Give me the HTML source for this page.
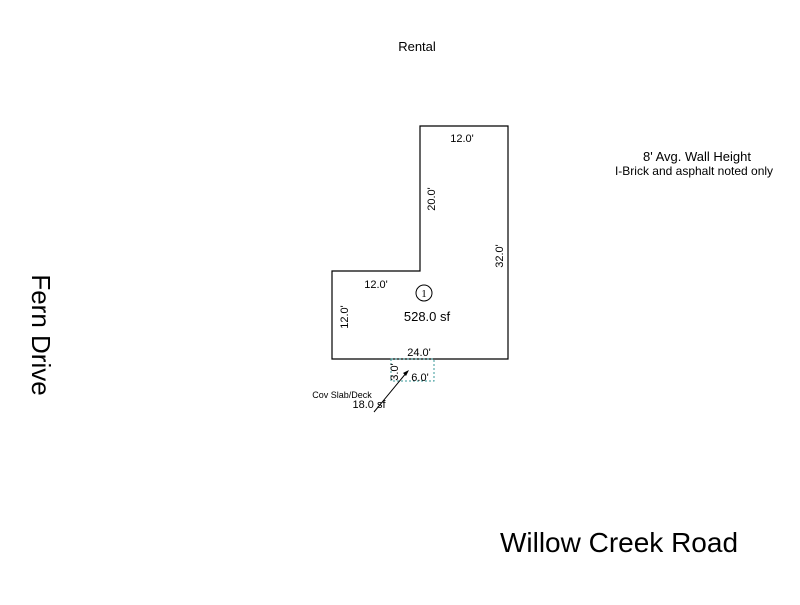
<!DOCTYPE html>
<html><head><style>body{margin:0;background:#fff}</style></head><body>
<svg width="800" height="600" xmlns="http://www.w3.org/2000/svg" font-family="Liberation Sans, Arial, sans-serif">
<rect width="800" height="600" fill="#fff"/>
<text x="417" y="51" font-size="13" text-anchor="middle">Rental</text>
<text x="697" y="161" font-size="13" text-anchor="middle">8' Avg. Wall Height</text>
<text x="694" y="175" font-size="12" text-anchor="middle">I-Brick and asphalt noted only</text>
<text x="619" y="552" font-size="28" text-anchor="middle">Willow Creek Road</text>
<text transform="translate(32,335) rotate(90)" font-size="26" text-anchor="middle">Fern Drive</text>
<polygon points="420,126 508,126 508,359 332,359 332,271 420,271" fill="none" stroke="#000" stroke-width="1.2"/>
<rect x="391" y="359" width="43" height="22" fill="none" stroke="#3a9a9a" stroke-dasharray="2,2"/>
<text x="462" y="142" font-size="11" text-anchor="middle">12.0'</text>
<text transform="translate(435,199) rotate(-90)" font-size="11" text-anchor="middle">20.0'</text>
<text transform="translate(503,256) rotate(-90)" font-size="11" text-anchor="middle">32.0'</text>
<text x="376" y="288" font-size="11" text-anchor="middle">12.0'</text>
<text transform="translate(348,317) rotate(-90)" font-size="11" text-anchor="middle">12.0'</text>
<text x="419" y="356" font-size="11" text-anchor="middle">24.0'</text>
<circle cx="424" cy="293" r="8" fill="none" stroke="#000"/>
<text x="424" y="297" font-size="11" text-anchor="middle" font-family="Liberation Serif, serif">1</text>
<text x="427" y="321" font-size="13" text-anchor="middle">528.0 sf</text>
<text transform="translate(398,372) rotate(-90)" font-size="11" text-anchor="middle">3.0'</text>
<text x="420" y="381" font-size="11" text-anchor="middle">6.0'</text>
<line x1="374" y1="412" x2="407" y2="372" stroke="#000"/>
<polygon points="409,370 403,373 406,376" fill="#000"/>
<text x="342" y="398" font-size="9" text-anchor="middle">Cov Slab/Deck</text>
<text x="369" y="408" font-size="11" text-anchor="middle">18.0 sf</text>
</svg>
</body></html>
